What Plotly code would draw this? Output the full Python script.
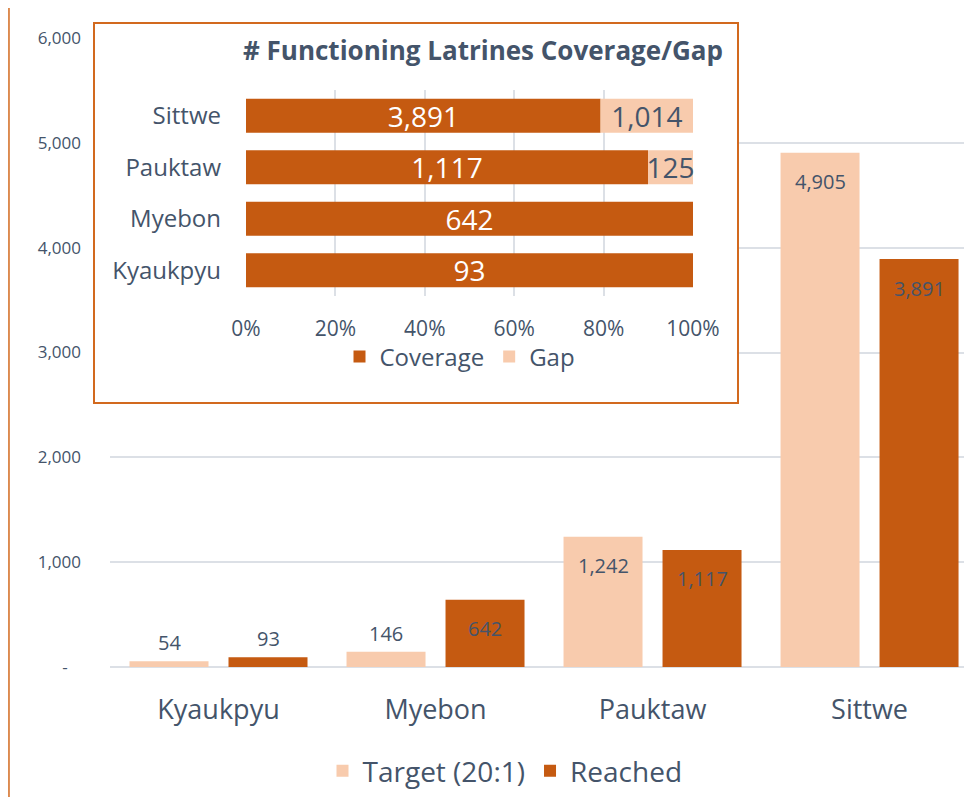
import plotly.graph_objects as go

# Data
sites = ["Kyaukpyu", "Myebon", "Pauktaw", "Sittwe"]
target = [54, 146, 1242, 4905]
reached = [93, 642, 1117, 3891]
y_ticks = [0, 1000, 2000, 3000, 4000, 5000, 6000]
y_ticktext = ["-\u00a0\u00a0\u00a0", "1,000", "2,000", "3,000", "4,000", "5,000", "6,000"]

PEACH = "#F8CBAD"
RUST = "#C55A11"
BORDER = "#D2691E"
TEXT = "#44546A"
GRID = "#DCE0E6"
FONT = "Open Sans"

W, H = 972, 797
OFF = 8  # page body margin: the figure starts 8px in from the window corner


def px_x(a, b):
    return [(a - OFF) / W, (b - OFF) / W]


def px_y(top, bottom):
    return [1 - (bottom - OFF) / H, 1 - (top - OFF) / H]


# inset: coverage / gap as shares of each site's total
gap = [max(t - r, 0) for t, r in zip(target, reached)]
cov_share = [r / (r + g) for r, g in zip(reached, gap)]
gap_share = [g / (r + g) for r, g in zip(reached, gap)]

fig = go.Figure()

annotations = []
for name, vals, color, shift in [("Target (20:1)", target, PEACH, -49.5), ("Reached", reached, RUST, 49.5)]:
    fig.add_trace(go.Bar(
        name=name, x=sites, y=vals, marker=dict(color=color, line=dict(width=0)),
        legend="legend",
    ))
    # value labels: above short bars, a little below the top on tall ones
    for s, v in zip(sites, vals):
        inside = v >= 300
        annotations.append(dict(
            text=f"{v:,}", x=s, y=v, xref="x", yref="y", showarrow=False,
            xshift=shift, yshift=-29 if inside else 3,
            yanchor="middle" if inside else "bottom",
            font=dict(size=20, color=TEXT, family=FONT),
        ))

# empty trace so the inset box subplot exists
fig.add_trace(go.Scatter(x=[], y=[], xaxis="x2", yaxis="y2", showlegend=False, hoverinfo="skip"))

fig.add_trace(go.Bar(
    name="Coverage", y=sites, x=cov_share, orientation="h", xaxis="x3", yaxis="y3",
    marker=dict(color=RUST, line=dict(width=0)), offsetgroup="inset", width=0.66, offset=-0.33,
    text=[f"{v:,}" for v in reached], textposition="inside", insidetextanchor="middle",
    textangle=0, textfont=dict(color="white", size=28, family=FONT), constraintext="none",
    legend="legend2",
))
fig.add_trace(go.Bar(
    name="Gap", y=sites, x=gap_share, base=cov_share, orientation="h", xaxis="x3", yaxis="y3",
    marker=dict(color=PEACH, line=dict(width=0)), offsetgroup="inset", width=0.66, offset=-0.33,
    text=[f"{v:,}" if v > 0 else "" for v in gap], textposition="inside", insidetextanchor="middle",
    textangle=0, textfont=dict(color=TEXT, size=28, family=FONT), constraintext="none",
    cliponaxis=False, legend="legend2",
))

annotations.append(dict(
    text="<b># Functioning Latrines Coverage/Gap</b>", xref="paper", yref="paper",
    x=(483 - OFF) / W, y=1 - (50 - OFF) / H, xanchor="center", yanchor="middle", showarrow=False,
    font=dict(size=26, color=TEXT, family=FONT),
))

fig.update_layout(
    width=W, height=H,
    margin=dict(l=0, r=0, t=0, b=0, autoexpand=False),
    paper_bgcolor="white", plot_bgcolor="white",
    font=dict(family=FONT, color=TEXT),
    barmode="group", bargap=0.0876, bargroupgap=0.202,
    xaxis=dict(
        domain=[(110 - OFF) / W, 1], range=[-0.5, 3.509], showgrid=False, showline=False,
        tickfont=dict(size=27), ticklabelstandoff=24, fixedrange=True,
    ),
    yaxis=dict(
        domain=px_y(38, 667), range=[0, 6000], tickvals=y_ticks, ticktext=y_ticktext,
        gridcolor=GRID, gridwidth=1.5, zeroline=True, zerolinecolor=GRID, zerolinewidth=2,
        tickfont=dict(size=17), ticklabelstandoff=28, fixedrange=True,
    ),
    xaxis2=dict(
        domain=px_x(95, 737), anchor="y2", range=[0, 1], showgrid=False, zeroline=False,
        showticklabels=False, showline=True, mirror=True, linecolor=BORDER, linewidth=1.5,
    ),
    yaxis2=dict(
        domain=px_y(24, 402), anchor="x2", range=[0, 1], showgrid=False, zeroline=False,
        showticklabels=False, showline=True, mirror=True, linecolor=BORDER, linewidth=1.5,
    ),
    xaxis3=dict(
        domain=px_x(246, 693), anchor="y3", range=[0, 1], tickformat=".0%", dtick=0.2,
        gridcolor=GRID, gridwidth=1.5, zeroline=False, showline=False,
        tickfont=dict(size=21), ticklabelstandoff=18,
    ),
    yaxis3=dict(
        domain=px_y(90, 296), anchor="x3", showgrid=False, showline=False,
        tickfont=dict(size=24), ticklabelstandoff=24,
    ),
    legend=dict(
        orientation="h", x=(505 - OFF) / W, y=1 - (771 - OFF) / H, xanchor="center", yanchor="middle",
        font=dict(size=28, color=TEXT), bgcolor="rgba(0,0,0,0)", itemwidth=30,
    ),
    legend2=dict(
        orientation="h", x=(460 - OFF) / W, y=1 - (357 - OFF) / H, xanchor="center", yanchor="middle",
        font=dict(size=24, color=TEXT), bgcolor="rgba(0,0,0,0)", itemwidth=30,
    ),
    annotations=annotations,
    shapes=[dict(
        type="line", xref="paper", yref="paper", x0=0.001, x1=0.001, y0=0, y1=1,
        line=dict(color=BORDER, width=1.5),
    )],
    showlegend=True,
)

fig.write_html("out.html")
